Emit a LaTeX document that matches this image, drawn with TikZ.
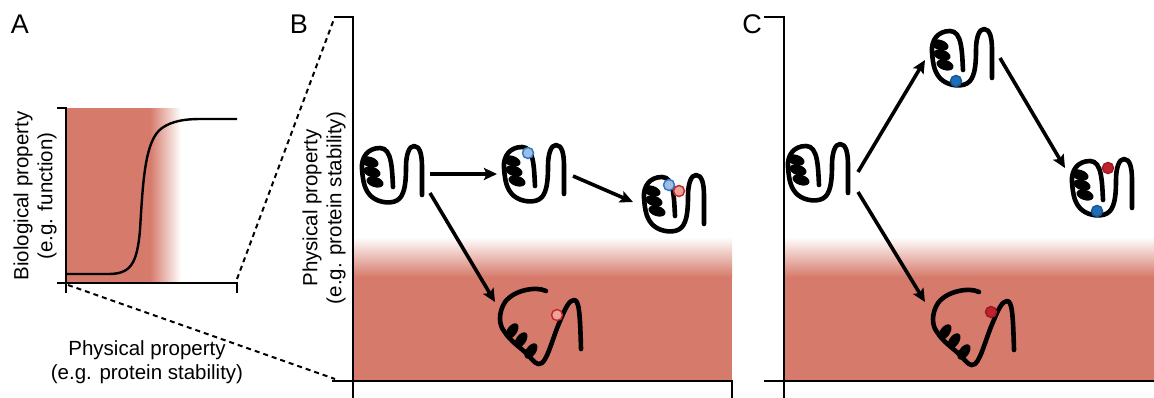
\documentclass[tikz,border=0pt]{standalone}
\usepackage{fontspec}
\setmainfont{Liberation Sans}
\usetikzlibrary{arrows.meta}
\definecolor{band}{RGB}{214,123,107}
\definecolor{lblue}{RGB}{164,188,228}
\definecolor{sblue}{RGB}{44,123,201}
\definecolor{lred}{RGB}{233,165,150}
\definecolor{sred}{RGB}{201,38,47}
\definecolor{dblue}{RGB}{31,110,184}
\definecolor{dred}{RGB}{192,34,45}
\tikzset{
  axis/.style={line width=2.2pt, line cap=rect},
  chain/.style={line width=4.6pt, line cap=round, line join=round},
  flow/.style={line width=3.6pt, -{Stealth[length=13pt,width=12pt,inset=2.5pt]}},
  zoomline/.style={line width=2pt, dash pattern=on 5pt off 4pt},
  txt/.style={font=\fontsize{20.5}{24}\selectfont, inner sep=0pt},
  panel/.style={font=\fontsize{27}{30}\selectfont, inner sep=0pt},
  glyphbox/.style={inner sep=0pt, minimum width=70pt, minimum height=66pt},
  mutlight/.style={line width=1.5pt},
  blob/.style={line width=1.5pt, fill=black, draw=black},
  % folded protein: helix on the left, hairpin on the right
  pics/foldprot/.style={code={
    \draw[chain] (1,10) .. controls (0,-8) and (0,-29) .. (-12,-29)
      .. controls (-24,-29) and (-31,-20) .. (-30,-8)
      .. controls (-29,6) and (-27,14) .. (-20,20)
      .. controls (-13,26) and (2,28) .. (8,21)
      .. controls (13,15) and (14,4) .. (14,-10)
      .. controls (14,-22) and (17,-31) .. (22,-31)
      .. controls (28,-31) and (30,-22) .. (30,-10)
      -- (30,18);
    \filldraw[blob, rotate around={-18:(-22,-15)}] (-22,-15) ellipse [x radius=8pt, y radius=4.4pt];
    \filldraw[blob, rotate around={-18:(-20,-5)}] (-20,-5) ellipse [x radius=8pt, y radius=4.4pt];
    \filldraw[blob, rotate around={-18:(-17,5)}] (-17,5) ellipse [x radius=8pt, y radius=4.4pt];
  }},
  % unfolded protein: stretched helix and loose strand
  pics/openprot/.style={code={
    \draw[chain] (6,-36) .. controls (-4,-41) and (-26,-37) .. (-35,-25)
      .. controls (-42,-14) and (-41,-2) .. (-36,4)
      .. controls (-30,14) and (-20,20) .. (-13,27)
      .. controls (-7,33) and (-3,40) .. (2,36)
      .. controls (8,31) and (13,10) .. (20,-6)
      .. controls (25,-18) and (29,-27) .. (34,-27)
      .. controls (39,-27) and (40,-15) .. (41,22);
    \filldraw[blob, rotate around={55:(-28,4)}] (-28,4) ellipse [x radius=8pt, y radius=4.2pt];
    \filldraw[blob, rotate around={55:(-19,13)}] (-19,13) ellipse [x radius=8pt, y radius=4.2pt];
    \filldraw[blob, rotate around={55:(-9,24)}] (-9,24) ellipse [x radius=8pt, y radius=4.2pt];
  }}
}
\begin{document}
\begin{tikzpicture}[x=1pt,y=-1pt]
\useasboundingbox (0,0) rectangle (1154,397);

% ---------- panel A ----------
\fill[band] (66,108) rectangle (151,283);
\shade[left color=band, right color=white] (150,108) rectangle (181,283);
\draw[axis] (58,108) -- (66,108) -- (66,292);
\draw[axis] (58,283) -- (237,283) -- (237,292);
\draw[line width=2.4pt] (66,274) -- (108,274)
  .. controls (130,274) and (137,265) .. (140,230)
  .. controls (143,180) and (145,140) .. (162,128)
  .. controls (172,121) and (185,119) .. (200,119) -- (237,119);
\node[panel] (labA) at (20,24) {A};
\node[txt, align=center, rotate=90] (ylabA) at (35,196) {Biological property\\(e.g. function)};
\node[txt, align=center] (xlabA) at (147,362) {Physical property\\(e.g. protein stability)};
\coordinate (Aorig) at (68,285);
\coordinate (Aright) at (237,279);

% ---------- panel B ----------
\fill[band] (353,276) rectangle (732,381);
\shade[top color=white, bottom color=band] (353,237) rectangle (732,277);
\draw[axis] (335,17) -- (353,17) -- (353,397);
\draw[axis] (333,381) -- (732,381) -- (732,397);
\coordinate (Btop) at (334,19);
\coordinate (Borig) at (335,379);
\draw[zoomline] (Aright) -- (Btop);
\draw[zoomline] (Aorig) -- (Borig);
\node[panel] (labB) at (299,24) {B};
\node[txt, align=center, rotate=90] (ylabB) at (324,208) {Physical property\\(e.g. protein stability)};

\node[glyphbox] (b1) at (392,177) {};
\node[glyphbox] (b2) at (534,176) {};
\node[glyphbox] (b3) at (674,206) {};
\node[glyphbox] (b4) at (540,327) {};
\pic at (b1) {foldprot};
\pic at (b2) {foldprot};
\pic at (b3) {foldprot};
\pic at (b4) {openprot};
\filldraw[mutlight, fill=lblue, draw=sblue] (528,153) circle [radius=5.5pt];
\filldraw[mutlight, fill=lblue, draw=sblue] (669,185) circle [radius=5.5pt];
\filldraw[mutlight, fill=lred, draw=sred] (679,191) circle [radius=5.5pt];
\filldraw[mutlight, fill=lred, draw=sred] (557,315) circle [radius=5.5pt];

\coordinate (b1r) at (430,174);
\coordinate (b2l) at (497,174);
\coordinate (b2r) at (573,176);
\coordinate (b3l) at (633,202);
\coordinate (b1d) at (430,193);
\coordinate (b4u) at (495,302);
\draw[flow] (b1r) -- (b2l);
\draw[flow] (b2r) -- (b3l);
\draw[flow] (b1d) -- (b4u);

% ---------- panel C ----------
\fill[band] (784,276) rectangle (1154,381);
\shade[top color=white, bottom color=band] (784,237) rectangle (1154,277);
\draw[axis] (765,17) -- (784,17) -- (784,397);
\draw[axis] (765,381) -- (1154,381);
\node[panel] (labC) at (752,24) {C};

\node[glyphbox] (c1) at (818,175) {};
\node[glyphbox] (c2) at (962,60) {};
\node[glyphbox] (c3) at (1102,190) {};
\node[glyphbox] (c4) at (973,328) {};
\pic at (c1) {foldprot};
\pic at (c2) {foldprot};
\pic at (c3) {foldprot};
\pic at (c4) {openprot};
\filldraw[mutlight, fill=dblue, draw=dblue!80!black] (956,81) circle [radius=5.5pt];
\filldraw[mutlight, fill=dred, draw=dred!80!black] (1108,168) circle [radius=5.5pt];
\filldraw[mutlight, fill=dblue, draw=dblue!80!black] (1097,211) circle [radius=5.5pt];
\filldraw[mutlight, fill=dred, draw=dred!80!black] (991,312) circle [radius=5.5pt];

\coordinate (c1u) at (858,172);
\coordinate (c2l) at (925,60);
\coordinate (c2r) at (1000,58);
\coordinate (c3u) at (1065,168);
\coordinate (c1d) at (858,192);
\coordinate (c4u) at (925,302);
\draw[flow] (c1u) -- (c2l);
\draw[flow] (c2r) -- (c3u);
\draw[flow] (c1d) -- (c4u);
\end{tikzpicture}
\end{document}
